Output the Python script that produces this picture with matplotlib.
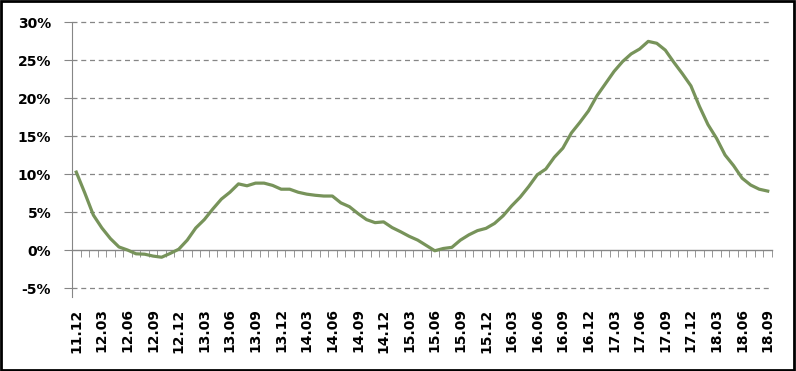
import numpy as np
import matplotlib
matplotlib.use("Agg")
import matplotlib.pyplot as plt
from matplotlib.patches import Rectangle
from matplotlib.ticker import FixedLocator, FuncFormatter

# monthly values, Dec 2011 .. Sep 2018 (%)
values = [10.25, 7.5, 4.6, 2.9, 1.5, 0.4, 0.0, -0.5, -0.55, -0.8,
          -0.95, -0.45, 0.1, 1.3, 2.9, 4.0, 5.4, 6.7, 7.6, 8.7,
          8.45, 8.8, 8.8, 8.5, 8.0, 8.0, 7.6, 7.35, 7.2, 7.1,
          7.1, 6.2, 5.7, 4.8, 4.0, 3.6, 3.7, 2.95, 2.4, 1.8,
          1.3, 0.6, -0.1, 0.2, 0.35, 1.3, 2.0, 2.55, 2.85, 3.5,
          4.5, 5.8, 6.95, 8.35, 9.9, 10.65, 12.2, 13.4, 15.4, 16.8,
          18.3, 20.3, 21.9, 23.5, 24.8, 25.8, 26.45, 27.45, 27.2, 26.3,
          24.7, 23.2, 21.6, 18.9, 16.5, 14.7, 12.5, 11.1, 9.45, 8.55,
          8.0, 7.75]

months = []
for k in range(len(values)):
    yy = 11 + (11 + k) // 12
    mm = (11 + k) % 12 + 1
    months.append("%02d.%02d" % (yy, mm))

yticks = [-5, 0, 5, 10, 15, 20, 25, 30]

x = np.arange(len(values))

fig = plt.figure(figsize=(7.96, 3.71), dpi=100)
ax = fig.add_axes([72 / 796, 1 - 288 / 371, 700 / 796, 266 / 371])

ax.plot(x, values, color="#77935a", lw=2.3, solid_joinstyle="round", zorder=3)

ax.set_xlim(-0.5, len(values) - 0.5)
ax.set_ylim(-5, 30)

# grid
for v in yticks:
    if v == 0:
        ax.axhline(v, color="#868686", lw=1.0, zorder=2, clip_on=False)
    else:
        ax.axhline(v, color="#868686", lw=0.9, ls=(0, (4, 3)), zorder=1, clip_on=False)

for s in ["top", "right"]:
    ax.spines[s].set_visible(False)
ax.spines["left"].set_color("#868686")
ax.spines["left"].set_bounds(-6.2, 30)
ax.spines["bottom"].set_position(("data", 0))
ax.spines["bottom"].set_visible(False)

ax.set_yticks(yticks)
ax.yaxis.set_major_formatter(FuncFormatter(lambda v, p: "%d%%" % v))
ax.tick_params(axis="y", length=6, color="#868686", pad=9, labelsize=10)
for t in ax.get_yticklabels():
    t.set_fontweight("bold")

ax.xaxis.set_major_locator(FixedLocator(x[::3]))
ax.set_xticklabels(months[::3], rotation=90, fontsize=10, fontweight="bold")
ax.xaxis.set_minor_locator(FixedLocator(np.arange(-0.5, len(values), 1.0)))
ax.tick_params(axis="x", which="major", length=0, pad=42)
ax.tick_params(axis="x", which="minor", length=5, color="#868686", direction="out")

fig.add_artist(Rectangle((0.001, 0.002), 0.997, 0.995, transform=fig.transFigure,
                         fill=False, edgecolor="black", lw=2))

fig.savefig("out.png", dpi=100)
